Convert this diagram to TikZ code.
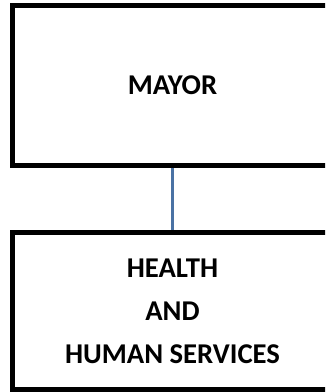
\documentclass[tikz,border=0pt]{standalone}
\usepackage{fontspec}
\setmainfont{Carlito}
\usetikzlibrary{positioning}

\tikzset{every picture/.style={line width=0.75pt}}
\definecolor{linkblue}{RGB}{74,114,164}
\tikzset{
  office/.style={draw=black, line width=3.75pt, fill=white, minimum width=240.75pt, align=center, font=\fontsize{21.5}{32.25}\selectfont\bfseries},
  link/.style={draw=linkblue, line width=2.6pt}
}

\begin{document}
\begin{tikzpicture}[x=0.75pt,y=0.75pt,yscale=-1,xscale=1]
\useasboundingbox (0,0) rectangle (325,392);
\clip (0,0) rectangle (325,392);

% Box: mayor
\node [office, minimum height=120pt] (mayor) at (172.5,85.5) {MAYOR};
% Box: health and human services
\node [office, minimum height=118pt] (hhs) at (172.5,311) {HEALTH\\AND\\HUMAN SERVICES};

% Connector
\draw [link] (mayor) -- (hhs);

\end{tikzpicture}
\end{document}
